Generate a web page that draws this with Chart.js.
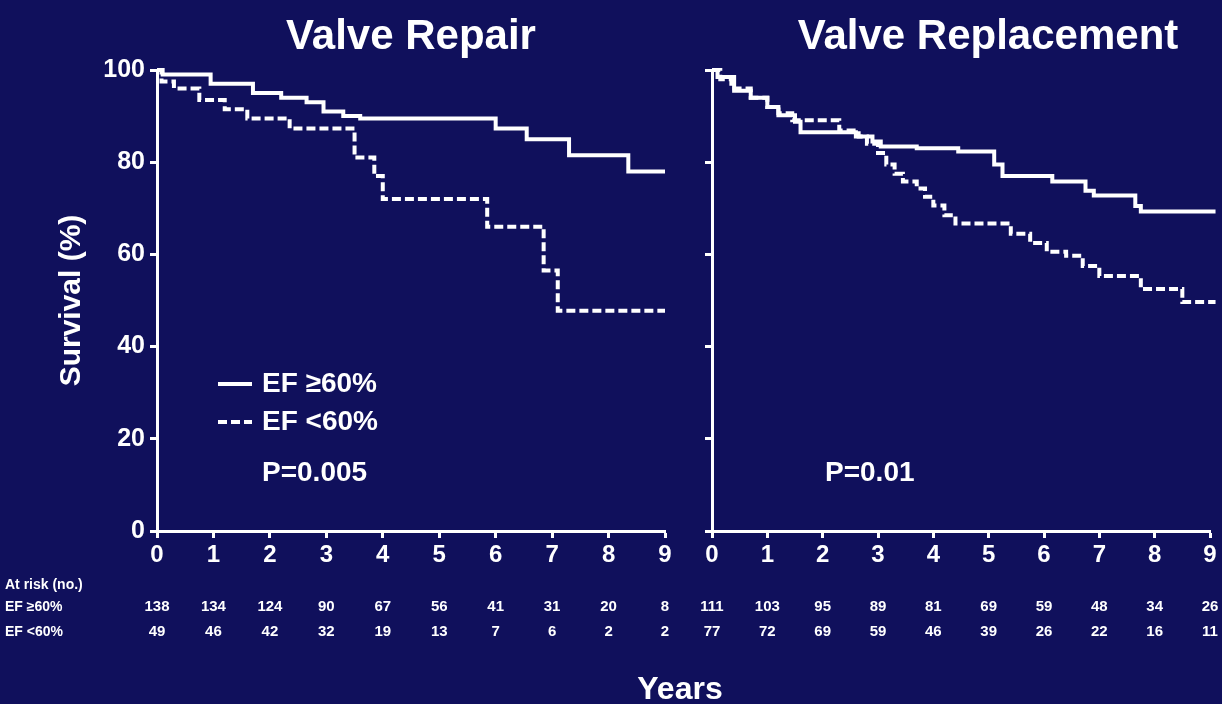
<!DOCTYPE html>
<html>
<head>
<meta charset="utf-8">
<title>Valve Repair / Valve Replacement survival</title>
<script src="https://cdn.jsdelivr.net/npm/chart.js@4/dist/chart.umd.min.js"></script>
<style>
  html, body { margin: 0; padding: 0; }
  body { width: 1222px; height: 704px; background: #10105c; overflow: hidden; position: relative;
         font-family: "Liberation Sans", Arial, sans-serif; color: #fff; }
  #stage { position: absolute; left: 0; top: 0; width: 1222px; height: 704px; filter: blur(0.6px); }
  .panel { position: absolute; top: 0; height: 704px; }
  #left  { left: 0;   width: 685px; }
  #right { left: 685px; width: 537px; }
  .title { position: absolute; top: 12px; font-weight: bold; font-size: 42px; white-space: nowrap;
           transform: translateX(-50%); line-height: 46px; }
  #years { position: absolute; left: 680px; top: 670px; transform: translateX(-50%);
           font-weight: bold; font-size: 32px; line-height: 36px; }
</style>
</head>
<body>
<div id="stage">
  <div class="title" style="left:411px">Valve Repair</div>
  <div class="title" style="left:988px">Valve Replacement</div>
  <div class="panel" id="left"><canvas id="cLeft" width="685" height="704"></canvas></div>
  <div class="panel" id="right"><canvas id="cRight" width="537" height="704"></canvas></div>
  <div id="years">Years</div>
</div>
<script>
// ---- Data ----
var YEARS   = [0, 1, 2, 3, 4, 5, 6, 7, 8, 9];
var Y_TICKS = [0, 20, 40, 60, 80, 100];

// Kaplan-Meier steps: time (years) / survival (%)
var REPAIR_HI_T = [0, 0.1, 0.95, 1.7, 2.2, 2.65, 2.95, 3.3, 3.6, 6.0, 6.55, 7.3, 8.35, 9.0];
var REPAIR_HI_S = [100, 99, 97, 95, 94, 93, 91, 90, 89.5, 87.3, 85, 81.5, 78, 78];
var REPAIR_LO_T = [0, 0.08, 0.3, 0.75, 1.2, 1.6, 2.35, 3.5, 3.85, 4.0, 5.85, 6.85, 7.1, 9.0];
var REPAIR_LO_S = [100, 97.5, 96, 93.5, 91.5, 89.5, 87.3, 81, 77, 72, 66, 56.5, 47.8, 47.8];

var REPL_HI_T = [0, 0.1, 0.4, 0.7, 1.0, 1.2, 1.5, 1.6, 2.35, 2.6, 2.9, 3.05, 3.7, 4.45, 5.1, 5.25, 6.15, 6.75, 6.9, 7.65, 7.75, 9.1];
var REPL_HI_S = [100, 98.5, 95.5, 94, 92, 90.2, 88.8, 86.5, 86.5, 85.6, 84.5, 83.4, 83, 82.3, 79.5, 77, 75.8, 73.8, 72.8, 70.5, 69.3, 69.3];
var REPL_LO_T = [0, 0.15, 0.35, 0.7, 1.0, 1.2, 1.45, 2.3, 2.65, 2.8, 3.0, 3.15, 3.3, 3.45, 3.7, 3.85, 4.0, 4.2, 4.4, 5.4, 5.75, 6.05, 6.4, 6.7, 7.0, 7.75, 8.5, 9.1];
var REPL_LO_S = [100, 98, 96, 94, 92, 90.6, 89.1, 86.9, 85.6, 84, 82, 79.5, 77.5, 75.8, 74.3, 72.5, 70.6, 68.5, 66.7, 64.5, 62.5, 60.6, 59.7, 57.5, 55.3, 52.5, 49.7, 49.7];

// Numbers at risk at each year
var RISK_REPAIR_HI = [138, 134, 124, 90, 67, 56, 41, 31, 20, 8];
var RISK_REPAIR_LO = [49, 46, 42, 32, 19, 13, 7, 6, 2, 2];
var RISK_REPL_HI   = [111, 103, 95, 89, 81, 69, 59, 48, 34, 26];
var RISK_REPL_LO   = [77, 72, 69, 59, 46, 39, 26, 22, 16, 11];

var LABEL_HI = 'EF \u226560%';
var LABEL_LO = 'EF <60%';

// ---- Style ----
var INK  = '#ffffff';
var FONT = '"Liberation Sans", Arial, sans-serif';
var DASH = [9, 4];

function pts(t, s) { return t.map(function (x, i) { return { x: x, y: s[i] }; }); }

function dataset(label, t, s, dashed) {
  return { label: label, data: pts(t, s), borderColor: INK, borderWidth: 4, borderDash: dashed ? DASH : [],
           stepped: true, pointRadius: 0, fill: false, clip: 10 };
}

// Draws at-risk table, legend and p-value using the chart's own x scale.
var panelText = {
  id: 'panelText',
  afterDraw: function (chart, args, o) {
    var ctx = chart.ctx, xs = chart.scales.x;
    ctx.save();
    ctx.fillStyle = INK; ctx.strokeStyle = INK;
    ctx.textBaseline = 'middle';

    ctx.font = 'bold 15px ' + FONT; ctx.textAlign = 'center';
    o.rows.forEach(function (row) {
      row.values.forEach(function (v, i) { ctx.fillText(String(v), xs.getPixelForValue(YEARS[i]), row.y); });
    });
    if (o.rowLabels) {
      ctx.textAlign = 'left';
      ctx.font = 'bold 14px ' + FONT;
      ctx.fillText('At risk (no.)', 5, 585);
      ctx.fillText(LABEL_HI, 5, o.rows[0].y);
      ctx.fillText(LABEL_LO, 5, o.rows[1].y);
    }
    if (o.legend) {
      var ds = chart.data.datasets;
      ctx.font = 'bold 28px ' + FONT; ctx.textAlign = 'left';
      [0, 1].forEach(function (k) {
        var y = o.legend.y[k];
        ctx.lineWidth = ds[k].borderWidth; ctx.setLineDash(ds[k].borderDash);
        ctx.beginPath(); ctx.moveTo(o.legend.x, y); ctx.lineTo(o.legend.x + 34, y); ctx.stroke();
        ctx.setLineDash([]);
        ctx.fillText(ds[k].label, o.legend.x + 44, y);
      });
    }
    ctx.font = 'bold 28px ' + FONT; ctx.textAlign = 'left';
    ctx.fillText(o.p.text, o.p.x, o.p.y);
    ctx.restore();
  }
};

function axes(yWidth, showY) {
  return {
    x: {
      type: 'linear', min: 0, max: 9,
      afterBuildTicks: function (s) { s.ticks = YEARS.map(function (v) { return { value: v }; }); },
      afterFit: function (s) { s.height = 704 - 531; },
      border: { display: true, color: INK, width: 3 },
      grid: { display: true, drawOnChartArea: false, drawTicks: true, tickLength: 7, tickWidth: 3, color: INK },
      ticks: { color: INK, padding: 3, font: { family: FONT, size: 24, weight: 'bold' }, maxRotation: 0 }
    },
    y: {
      min: 0, max: 100,
      afterBuildTicks: function (s) { s.ticks = Y_TICKS.map(function (v) { return { value: v }; }); },
      afterFit: function (s) { s.width = yWidth; },
      border: { display: true, color: INK, width: 3 },
      grid: { display: true, drawOnChartArea: false, drawTicks: true, tickLength: 7, tickWidth: 3, color: INK },
      ticks: { display: showY, color: INK, padding: 5, font: { family: FONT, size: 25, weight: 'bold' } },
      title: { display: showY, text: 'Survival (%)', color: INK,
               font: { family: FONT, size: 30, weight: 'bold' }, padding: { top: 54, bottom: 0 } }
    }
  };
}

function makeChart(id, sets, yWidth, showY, padRight, text) {
  return new Chart(document.getElementById(id), {
    type: 'line',
    data: { datasets: sets },
    plugins: [panelText],
    options: {
      responsive: false, animation: false,
      layout: { padding: { top: 70, right: padRight, bottom: 0, left: 0 } },
      plugins: { legend: { display: false }, tooltip: { enabled: false }, panelText: text },
      scales: axes(yWidth, showY)
    }
  });
}

makeChart('cLeft', [
  dataset(LABEL_HI, REPAIR_HI_T, REPAIR_HI_S, false),
  dataset(LABEL_LO, REPAIR_LO_T, REPAIR_LO_S, true)
], 157, true, 20, {
  rows: [{ y: 607, values: RISK_REPAIR_HI }, { y: 632, values: RISK_REPAIR_LO }],
  rowLabels: true,
  legend: { x: 218, y: [384, 422] },
  p: { text: 'P=0.005', x: 262, y: 473 }
});

makeChart('cRight', [
  dataset(LABEL_HI, REPL_HI_T, REPL_HI_S, false),
  dataset(LABEL_LO, REPL_LO_T, REPL_LO_S, true)
], 27, false, 12, {
  rows: [{ y: 607, values: RISK_REPL_HI }, { y: 632, values: RISK_REPL_LO }],
  rowLabels: false,
  legend: null,
  p: { text: 'P=0.01', x: 140, y: 473 }
});
</script>
</body>
</html>
